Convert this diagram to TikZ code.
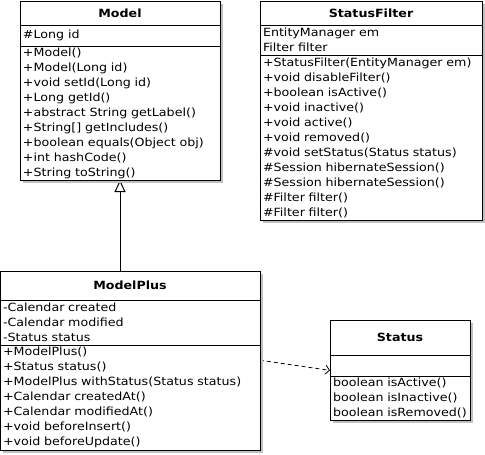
\documentclass[tikz,border=0pt]{standalone}
\usepackage{fontspec}
\setmainfont[FakeStretch=1.12]{DejaVu Sans}
\usetikzlibrary{arrows.meta,shadows}
\pgfdeclarelayer{nodelayer}
\pgfdeclarelayer{edgelayer}
\pgfsetlayers{edgelayer,nodelayer,main}
\definecolor{shadowgray}{HTML}{C0C0C0}
\tikzstyle{class part}=[fill=white, draw=black, shape=rectangle, line width=1pt, anchor=north west, outer sep=0pt, inner xsep=3pt, inner ysep=0pt, align=left, font=\fontsize{11.3}{15}\selectfont, general shadow={fill=shadowgray, shadow xshift=3pt, shadow yshift=-3pt}]
\tikzstyle{class title}=[style=class part, align=center, font=\fontsize{11.3}{15}\selectfont\bfseries]
\tikzstyle{inherit edge}=[draw=black, line width=1pt, -{Triangle[open, length=12pt, width=11pt]}]
\tikzstyle{use edge}=[draw=black, line width=0.8pt, dash pattern=on 4pt off 3pt, -{Straight Barb[length=4pt, width=9pt]}]

\begin{document}
\begin{tikzpicture}[x=1pt, y=-1pt]
	\useasboundingbox (0, 0) rectangle (485, 455);
	\begin{pgfonlayer}{nodelayer}
		\node [style=class title, text width=194pt, minimum height=24pt] (0) at (20, 1) {Model};
		\node [style=class part, text width=194pt, minimum height=21pt] (1) at (20, 25) {\#Long id};
		\node [style=class part, text width=194pt, minimum height=134pt] (2) at (20, 46) {+Model()\\+Model(Long id)\\+void setId(Long id)\\+Long getId()\\+abstract String getLabel()\\+String[] getIncludes()\\+boolean equals(Object obj)\\+int hashCode()\\+String toString()};
		\node [style=class title, text width=216pt, minimum height=24pt] (3) at (260, 1) {StatusFilter};
		\node [style=class part, text width=216pt, minimum height=30pt] (4) at (260, 25) {EntityManager em\\Filter filter};
		\node [style=class part, text width=216pt, minimum height=165pt] (5) at (260, 55) {+StatusFilter(EntityManager em)\\+void disableFilter()\\+boolean isActive()\\+void inactive()\\+void active()\\+void removed()\\\#void setStatus(Status status)\\\#Session hibernateSession()\\\#Session hibernateSession()\\\#Filter filter()\\\#Filter filter()};
		\node [style=class title, text width=254pt, minimum height=29pt] (6) at (0, 271) {ModelPlus};
		\node [style=class part, text width=254pt, minimum height=45pt] (7) at (0, 300) {-Calendar created\\-Calendar modified\\-Status status};
		\node [style=class part, text width=254pt, minimum height=105pt] (8) at (0, 345) {+ModelPlus()\\+Status status()\\+ModelPlus withStatus(Status status)\\+Calendar createdAt()\\+Calendar modifiedAt()\\+void beforeInsert()\\+void beforeUpdate()};
		\node [style=class title, text width=134pt, minimum height=35pt] (9) at (330, 320) {Status};
		\node [style=class part, text width=134pt, minimum height=21pt] (10) at (330, 355) {};
		\node [style=class part, text width=134pt, minimum height=44pt] (11) at (330, 376) {boolean isActive()\\boolean isInactive()\\boolean isRemoved()};
	\end{pgfonlayer}
	\begin{pgfonlayer}{edgelayer}
		\draw [style=inherit edge] (6.north -| 2.south) to (2.south);
		\draw [style=use edge] (8.16) to (10.184);
	\end{pgfonlayer}
\end{tikzpicture}
\end{document}
